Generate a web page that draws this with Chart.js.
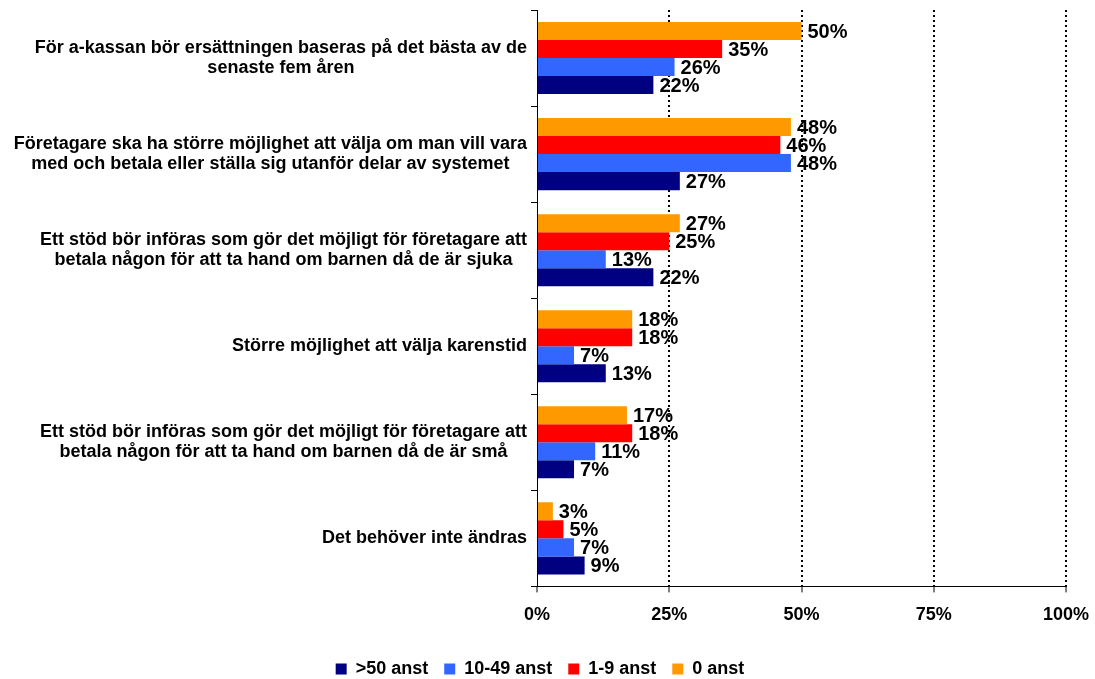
<!DOCTYPE html>
<html>
<head>
<meta charset="utf-8">
<script src="https://cdn.jsdelivr.net/npm/chart.js@4/dist/chart.umd.min.js"></script>
<style>
  html, body { margin: 0; padding: 0; background: #fff; }
  #wrap { width: 1095px; height: 679px; }
</style>
</head>
<body>
<div id="wrap"><canvas id="myChart"></canvas></div>
<script>
const categories = [
    ["För a-kassan bör ersättningen baseras på det bästa av de", "senaste fem åren"],
    ["Företagare ska ha större möjlighet att välja om man vill vara", "med och betala eller ställa sig utanför delar av systemet"],
    ["Ett stöd bör införas som gör det möjligt för företagare att", "betala någon för att ta hand om barnen då de är sjuka"],
    ["Större möjlighet att välja karenstid"],
    ["Ett stöd bör införas som gör det möjligt för företagare att", "betala någon för att ta hand om barnen då de är små"],
    ["Det behöver inte ändras"]
];

const anst0 = [50, 48, 27, 18, 17, 3];
const anst1to9 = [35, 46, 25, 18, 18, 5];
const anst10to49 = [26, 48, 13, 7, 11, 7];
const anst50plus = [22, 27, 22, 13, 7, 9];

const xTicks = [0, 25, 50, 75, 100];

const FONT = "'Liberation Sans', Arial, sans-serif";

// draws the value labels next to each bar and the category labels on the left
const labelsPlugin = {
    id: "labels",
    afterDatasetsDraw: (chart) => {
        const ctx = chart.ctx;
        ctx.save();
        ctx.fillStyle = "#000";
        ctx.font = "bold 20px " + FONT;
        ctx.textAlign = "left";
        ctx.textBaseline = "middle";
        chart.data.datasets.forEach((ds, i) => {
            chart.getDatasetMeta(i).data.forEach((bar, j) => {
                ctx.fillText(ds.data[j] + "%", bar.x + 6, bar.y + 1);
            });
        });

        const yScale = chart.scales.y;
        ctx.font = "bold 18px " + FONT;
        ctx.textAlign = "center";
        const right = chart.chartArea.left - 10;
        categories.forEach((lines, i) => {
            const cy = yScale.getPixelForValue(i);
            var widest = 0;
            lines.forEach((l) => { widest = Math.max(widest, ctx.measureText(l).width); });
            const cx = right - widest / 2;
            const lh = 20;
            const top = cy - (lines.length - 1) * lh / 2;
            lines.forEach((l, k) => ctx.fillText(l, cx, top + k * lh));
        });
        ctx.restore();
    }
};

function main() {
    const ctx = document.getElementById("myChart").getContext("2d");

    new Chart(ctx, {
        type: "bar",
        data: {
            labels: categories.map((c) => c.join(" ")),
            datasets: [
                { label: "0 anst", data: anst0, backgroundColor: "#FF9900" },
                { label: "1-9 anst", data: anst1to9, backgroundColor: "#FF0000" },
                { label: "10-49 anst", data: anst10to49, backgroundColor: "#3366FF" },
                { label: ">50 anst", data: anst50plus, backgroundColor: "#000080" }
            ]
        },
        options: {
            indexAxis: "y",
            responsive: true,
            maintainAspectRatio: false,
            animation: false,
            layout: { padding: { top: 10, right: 29, left: 14, bottom: -9 } },
            datasets: {
                bar: { categoryPercentage: 0.75, barPercentage: 1.0 }
            },
            scales: {
                x: {
                    min: 0,
                    max: 100,
                    afterBuildTicks: (scale) => {
                        scale.ticks = xTicks.map((v) => ({ value: v }));
                    },
                    afterFit: (scale) => {
                        scale.paddingRight = 0;
                        scale.paddingLeft = 0;
                        scale.height += 6;
                    },
                    ticks: {
                        color: "#000",
                        font: { family: FONT, size: 18, weight: "bold" },
                        padding: 12,
                        callback: (v) => v + "%"
                    },
                    grid: {
                        color: (c) => (c.tick && c.tick.value === 0 ? "rgba(0,0,0,0)" : "#000"),
                        tickColor: "#000",
                        lineWidth: 2,
                        tickWidth: 1,
                        tickBorderDash: [],
                        tickLength: 6
                    },
                    border: { display: true, color: "#000", width: 1, dash: [2, 3] }
                },
                y: {
                    afterFit: (scale) => { scale.width = 523; },
                    ticks: { display: false },
                    grid: {
                        drawOnChartArea: false,
                        drawTicks: true,
                        tickLength: 6,
                        color: "#000",
                        offset: true
                    },
                    border: { display: true, color: "#000", width: 1 }
                }
            },
            plugins: {
                legend: {
                    position: "bottom",
                    reverse: true,
                    labels: {
                        color: "#000",
                        font: { family: FONT, size: 18, weight: "bold" },
                        boxWidth: 11,
                        boxHeight: 11,
                        padding: 16
                    }
                },
                tooltip: { enabled: false }
            }
        },
        plugins: [labelsPlugin]
    });
}

main();
</script>
</body>
</html>
